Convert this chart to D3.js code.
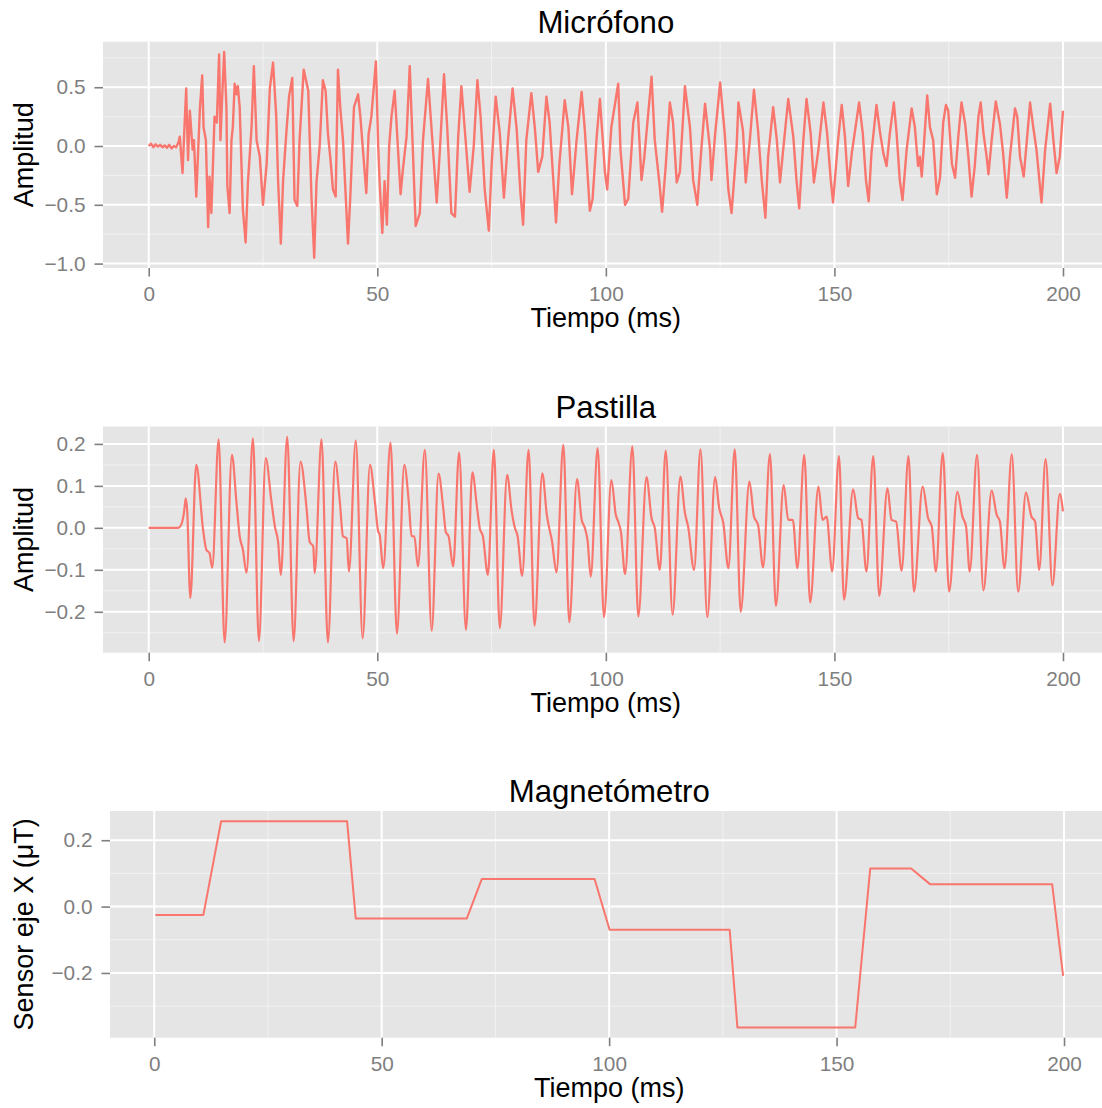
<!DOCTYPE html>
<html>
<head>
<meta charset="utf-8">
<script src="https://cdn.jsdelivr.net/npm/d3@7"></script>
<style>
body { margin: 0; background: #ffffff; }
text { font-family: "Liberation Sans", Arial, Helvetica, sans-serif; }
</style>
</head>
<body>
<div id="chart"></div>
<script>
// valores: [tiempo (ms), amplitud]
var microfono = [
  [0,0],[0.5,0.02],[1,-0.01],[1.5,0.015],[2,-0.005],[2.5,0.01],[3,-0.01],[3.5,0.005],[4,-0.015],[4.5,0.01],[5,-0.02],[5.5,0],[6,-0.01],[6.5,0.03],
  [6.8,0.08],[7.4,-0.23],[7.7,0.05],[8.2,0.49],[8.6,-0.12],[9.0,0.3],[9.6,-0.03],[9.9,0.05],[10.4,-0.43],[11.2,0.32],[11.7,0.6],[12.0,0.16],
  [12.5,0.05],[13.0,-0.69],[13.3,-0.26],[13.7,-0.57],[14.4,0.25],[14.9,0.2],[15.4,0.78],[15.7,0.05],[16.0,0.35],[16.5,0.8],[17.0,0.33],[17.2,-0.34],
  [17.7,-0.57],[18.1,0.05],[18.4,0.16],[18.8,0.53],[19.2,0.44],[19.5,0.51],[19.9,0.33],[20.6,-0.54],[21.2,-0.82],[21.7,-0.31],[22.5,0.16],[23.0,0.68],
  [23.6,0.05],[24.3,-0.09],[25.0,-0.5],[25.8,-0.15],[26.5,0.49],[27.2,0.71],[27.9,0.25],[28.3,-0.29],[28.9,-0.83],[29.4,-0.29],[30.1,0.11],[30.7,0.42],
  [31.4,0.58],[31.9,-0.46],[32.5,-0.51],[33.0,0.05],[33.9,0.65],[34.9,0.47],[35.6,-0.43],[36.2,-0.95],[36.7,-0.31],[37.4,0],[38.1,0.56],[38.7,0.47],
  [39.2,0.11],[39.8,-0.13],[40.3,-0.37],[40.9,-0.43],[41.4,0.65],[41.9,0.33],[42.5,0.05],[43.6,-0.83],[44.1,-0.43],[44.9,0.33],[45.8,0.44],[46.3,0.25],
  [47.6,-0.4],[48.1,0.1],[48.7,0.25],[49.7,0.72],[50.2,0],[50.5,-0.3],[51.1,-0.74],[51.6,-0.3],[52.1,-0.67],[52.6,0],[53.1,0.25],[53.8,0.47],
  [54.2,0.2],[55.1,-0.41],[55.6,-0.2],[56.4,0.08],[57.1,0.68],[57.7,0.05],[58.4,-0.68],[59.3,-0.57],[60.0,0.05],[61.1,0.57],[61.9,0.13],[63.0,-0.48],
  [63.7,-0.03],[64.6,0.61],[65.3,0.16],[66.2,-0.57],[67.0,-0.6],[67.7,0.08],[68.4,0.51],[69.1,0.16],[70.2,-0.39],[71.1,0],[71.9,0.56],[72.6,0.25],
  [73.5,-0.37],[74.4,-0.72],[75.0,-0.17],[75.9,0.42],[76.8,0.11],[77.7,-0.44],[78.6,0.05],[79.6,0.49],[80.5,0.14],[81.3,-0.39],[81.9,-0.67],[82.6,0.05],
  [83.7,0.45],[84.5,0.14],[85.2,-0.22],[86.1,-0.09],[87.0,0.42],[87.7,0.2],[89.1,-0.65],[89.8,-0.17],[91.0,0.39],[91.8,0.16],[92.6,-0.41],[93.6,0.05],
  [94.7,0.46],[95.4,0.14],[96.5,-0.55],[97.1,-0.45],[98.0,0.08],[98.7,0.4],[99.8,-0.22],[100.3,-0.37],[101.2,0.16],[102.7,0.53],[103.2,-0.03],[104.2,-0.5],
  [104.9,-0.45],[106.0,0.2],[106.9,0.37],[107.8,-0.29],[108.4,-0.1],[109.0,0.16],[110.0,0.59],[110.7,0.05],[111.7,-0.31],[112.3,-0.56],[113.1,-0.17],[114.0,0.37],
  [114.7,0.2],[115.5,-0.31],[116.2,-0.22],[117.3,0.51],[118.4,0.16],[119.1,-0.29],[120.0,-0.5],[120.9,-0.02],[121.7,0.36],[122.8,-0.03],[123.1,-0.29],[123.9,0.1],
  [125.0,0.54],[126.0,0.11],[126.8,-0.37],[127.5,-0.57],[128.6,-0.01],[129.0,0.37],[130.0,0.13],[130.6,-0.31],[131.5,0.05],[132.4,0.48],[133.3,0.13],[134.1,-0.29],
  [134.9,-0.61],[135.5,-0.09],[136.6,0.33],[137.4,0.05],[138.1,-0.31],[139.0,0.05],[139.9,0.4],[141.0,0.08],[141.7,-0.29],[142.3,-0.53],[143.2,0.05],[143.9,0.4],
  [144.8,0.11],[145.5,-0.31],[146.5,-0.03],[147.6,0.37],[148.4,0.11],[149.2,-0.29],[149.7,-0.48],[150.8,0.05],[151.6,0.35],[152.3,0.08],[153.0,-0.34],[153.8,-0.06],
  [155.4,0.37],[156.2,0.11],[156.9,-0.29],[157.5,-0.47],[158.1,-0.06],[159.2,0.35],[160.0,0.11],[160.7,-0.06],[161.4,-0.17],[162.1,0.1],[163.0,0.37],[163.6,0.11],
  [164.3,-0.29],[164.9,-0.46],[165.8,-0.03],[166.9,0.32],[167.6,0.16],[168.3,-0.17],[168.7,-0.09],[169.1,-0.26],[169.8,0.14],[170.3,0.43],[170.9,0.16],[171.6,0.05],
  [172.4,-0.41],[173.1,-0.27],[173.8,0.2],[174.4,0.35],[174.9,0.3],[175.7,-0.15],[176.4,-0.27],[177.1,0.08],[177.8,0.37],[178.6,0.19],[179.3,-0.09],[180.0,-0.43],
  [180.7,-0.17],[181.5,0.25],[182.0,0.37],[182.6,0.11],[183.3,-0.09],[183.7,-0.24],[184.4,0.05],[185.3,0.38],[186.2,0.19],[186.9,-0.06],[187.7,-0.44],[188.4,-0.09],
  [189.5,0.32],[190.0,0.25],[190.6,-0.09],[191.4,-0.26],[192.1,0.05],[192.8,0.37],[193.5,0.16],[194.2,-0.03],[195.3,-0.48],[196.1,-0.03],[197.2,0.36],[197.9,0.05],
  [198.6,-0.23],[199.3,-0.09],[200,0.3]
];

var pastilla = [
  [0,0],[6.4,0],[7.0,0.005],[7.7,0.035],[8.1,0.07],[8.4,0.045],[9.1,-0.167],[10.4,0.15],[11.9,-0.005],[12.6,-0.052],[13.3,-0.06],[13.9,-0.095],
  [15.3,0.211],[16.6,-0.273],[18.2,0.174],[19.2,0.06],[19.9,-0.02],[20.6,-0.052],[21.4,-0.107],
  [22.8,0.213],[24.1,-0.27],[25.6,0.166],[26.8,0.067],[27.6,0.003],[28.3,-0.033],[28.9,-0.112],
  [30.3,0.217],[31.7,-0.27],[33.2,0.158],[34.5,0.05],[35.2,-0.033],[36.0,-0.045],[36.3,-0.108],
  [37.8,0.211],[39.2,-0.273],[40.8,0.158],[41.8,0.063],[42.5,-0.02],[43.3,-0.025],[43.8,-0.104],
  [45.3,0.208],[46.8,-0.263],[48.4,0.15],[49.5,0.06],[50.2,-0.009],[50.5,-0.015],[51.3,-0.096],
  [52.9,0.203],[54.3,-0.252],[55.9,0.15],[56.9,0.06],[57.5,-0.02],[58.1,-0.02],[58.9,-0.092],
  [60.4,0.186],[61.9,-0.245],[63.4,0.129],[64.4,0.05],[65.0,-0.01],[65.6,-0.02],[66.6,-0.092],
  [67.9,0.18],[69.4,-0.243],[70.8,0.132],[71.8,0.05],[72.4,0.0],[73.1,-0.02],[74.2,-0.112],
  [75.5,0.186],[76.8,-0.239],[78.4,0.126],[79.4,0.04],[80.1,0.0],[80.7,-0.02],[81.7,-0.114],
  [83.1,0.186],[84.4,-0.233],[86.1,0.13],[87.1,0.03],[87.6,0.0],[88.2,-0.03],[89.2,-0.106],
  [90.7,0.198],[92.0,-0.225],[93.7,0.116],[94.7,0.02],[95.4,0.0],[96.0,-0.03],[96.7,-0.116],
  [98.2,0.19],[99.6,-0.213],[101.2,0.114],[102.2,0.03],[102.7,0.015],[103.3,-0.01],[104.2,-0.11],
  [105.8,0.194],[107.1,-0.211],[108.9,0.121],[110.0,0.023],[110.7,0.0],[111.8,-0.1],
  [113.1,0.184],[114.6,-0.207],[116.3,0.122],[117.3,0.035],[118.0,0.003],[119.3,-0.1],
  [120.7,0.187],[122.2,-0.213],[123.9,0.121],[124.8,0.047],[125.7,0.011],[126.8,-0.096],
  [128.2,0.187],[129.5,-0.2],[131.4,0.11],[132.4,0.027],[133.3,0.007],[134.4,-0.094],
  [135.9,0.176],[137.2,-0.186],[138.9,0.102],[139.9,0.019],[140.9,0.019],[141.9,-0.096],
  [143.4,0.174],[144.7,-0.178],[146.5,0.098],[147.4,0.019],[148.3,0.027],[149.5,-0.104],
  [151.0,0.171],[152.1,-0.171],[154.1,0.092],[155.2,0.023],[155.9,0.019],[157.0,-0.104],
  [158.5,0.171],[159.8,-0.162],[161.6,0.094],[162.5,0.019],[163.5,0.015],[164.7,-0.102],
  [166.2,0.171],[167.4,-0.152],[169.3,0.098],[170.5,0.023],[171.3,0.003],[172.2,-0.104],
  [173.7,0.178],[175.1,-0.152],[176.9,0.086],[178.0,0.027],[178.8,0.003],[179.6,-0.104],
  [181.2,0.174],[182.6,-0.149],[184.4,0.089],[185.5,0.031],[186.2,0.015],[187.2,-0.096],
  [188.8,0.175],[190.2,-0.152],[191.9,0.084],[193.1,0.027],[193.9,0.015],[194.8,-0.1],
  [196.2,0.164],[197.7,-0.137],[199.3,0.081],[200,0.039]
];

var magnetT = [0.25, 10.8, 14.7, 42.4, 44.3, 68.7, 72.0, 96.8, 100.1, 126.5, 128.2, 154.1, 157.4, 166.4, 170.6, 197.4, 199.8];
var magnetV = [-0.025, -0.025, 0.257, 0.257, -0.036, -0.036, 0.083, 0.083, -0.07, -0.07, -0.364, -0.364, 0.115, 0.115, 0.067, 0.067, -0.209];

var xTicks = [0, 50, 100, 150, 200];
var xMinor = [25, 75, 125, 175];
var micYTicks = [-1.0, -0.5, 0.0, 0.5];
var micYMinor = [-0.75, -0.25, 0.25, 0.75];
var pasYTicks = [-0.2, -0.1, 0.0, 0.1, 0.2];
var pasYMinor = [-0.25, -0.15, -0.05, 0.05, 0.15];
var magYTicks = [-0.2, 0.0, 0.2];
var magYMinor = [-0.3, -0.1, 0.1];

var lineColor = "#F8766D";

var svg = d3.select("#chart")
  .append("svg")
    .attr("width", 1102)
    .attr("height", 1108);

// ggplot agrega 5% a cada lado
function expand(ext) {
    var d = (ext[1] - ext[0]) * 0.05;
    return [ext[0] - d, ext[1] + d];
}

function drawPanel(p) {
    var x = d3.scaleLinear()
      .domain(expand(d3.extent(p.data, function(d) { return d[0]; })))
      .range([p.left, p.right]);
    var y = d3.scaleLinear()
      .domain(expand(d3.extent(p.data, function(d) { return d[1]; })))
      .range([p.bottom, p.top]);
    var g = svg.append("g");

    g.append("rect")
      .attr("x", p.left)
      .attr("y", p.top)
      .attr("width", p.right - p.left)
      .attr("height", p.bottom - p.top)
      .attr("fill", "#E5E5E5");

    // grilla menor
    g.selectAll(".ymin").data(p.yMinor).enter().append("line")
      .attr("x1", p.left).attr("x2", p.right)
      .attr("y1", function(d) { return y(d); }).attr("y2", function(d) { return y(d); })
      .attr("stroke", "#F2F2F2").attr("stroke-width", 1);
    g.selectAll(".xmin").data(xMinor).enter().append("line")
      .attr("y1", p.top).attr("y2", p.bottom)
      .attr("x1", function(d) { return x(d); }).attr("x2", function(d) { return x(d); })
      .attr("stroke", "#F2F2F2").attr("stroke-width", 1);

    // grilla mayor
    g.selectAll(".ymaj").data(p.yTicks).enter().append("line")
      .attr("x1", p.left).attr("x2", p.right)
      .attr("y1", function(d) { return y(d); }).attr("y2", function(d) { return y(d); })
      .attr("stroke", "#FFFFFF").attr("stroke-width", 2);
    g.selectAll(".xmaj").data(xTicks).enter().append("line")
      .attr("y1", p.top).attr("y2", p.bottom)
      .attr("x1", function(d) { return x(d); }).attr("x2", function(d) { return x(d); })
      .attr("stroke", "#FFFFFF").attr("stroke-width", 2);

    g.append("path")
      .datum(p.data)
      .attr("fill", "none")
      .attr("stroke", lineColor)
      .attr("stroke-width", p.width)
      .attr("stroke-linejoin", "round")
      .attr("d", d3.line()
        .x(function(d) { return x(d[0]); })
        .y(function(d) { return y(d[1]); })
        .curve(p.curve));

    var xAxis = g.append("g")
      .attr("transform", "translate(0," + p.bottom + ")")
      .call(d3.axisBottom(x).tickValues(xTicks).tickSize(8.5).tickPadding(9.7).tickFormat(d3.format("d")));
    var yAxis = g.append("g")
      .attr("transform", "translate(" + p.left + ",0)")
      .call(d3.axisLeft(y).tickValues(p.yTicks).tickSize(8.5).tickPadding(9).tickFormat(d3.format(".1f")));
    [xAxis, yAxis].forEach(function(a) {
        a.select(".domain").remove();
        a.selectAll(".tick line").attr("stroke", "#7F7F7F").attr("stroke-width", 1.6);
        a.selectAll(".tick text")
          .attr("fill", "#7F7F7F")
          .style("font-size", "20.8px")
          .style("font-family", "'Liberation Sans', Arial, sans-serif");
    });

    g.append("text")
      .attr("x", (p.left + p.right) / 2)
      .attr("y", p.top - 8.7)
      .attr("text-anchor", "middle")
      .style("font-size", "31.2px")
      .text(p.title);
    g.append("text")
      .attr("x", (p.left + p.right) / 2)
      .attr("y", p.bottom + 59)
      .attr("text-anchor", "middle")
      .style("font-size", "27px")
      .text("Tiempo (ms)");
    g.append("text")
      .attr("transform", "translate(33," + ((p.top + p.bottom) / 2) + ") rotate(-90)")
      .attr("text-anchor", "middle")
      .style("font-size", "27px")
      .text(p.ylabel);
}

drawPanel({
    title: "Micrófono", ylabel: "Amplitud", data: microfono,
    left: 103, right: 1108.7, top: 41.7, bottom: 268,
    yTicks: micYTicks, yMinor: micYMinor, curve: d3.curveLinear, width: 2.4
});
drawPanel({
    title: "Pastilla", ylabel: "Amplitud", data: pastilla,
    left: 103, right: 1108.7, top: 426.5, bottom: 652.7,
    yTicks: pasYTicks, yMinor: pasYMinor, curve: d3.curveMonotoneX, width: 2.2
});
drawPanel({
    title: "Magnetómetro", ylabel: "Sensor eje X (μT)", data: d3.zip(magnetT, magnetV),
    left: 110, right: 1108.5, top: 811, bottom: 1037.7,
    yTicks: magYTicks, yMinor: magYMinor, curve: d3.curveLinear, width: 2
});
</script>
</body>
</html>
